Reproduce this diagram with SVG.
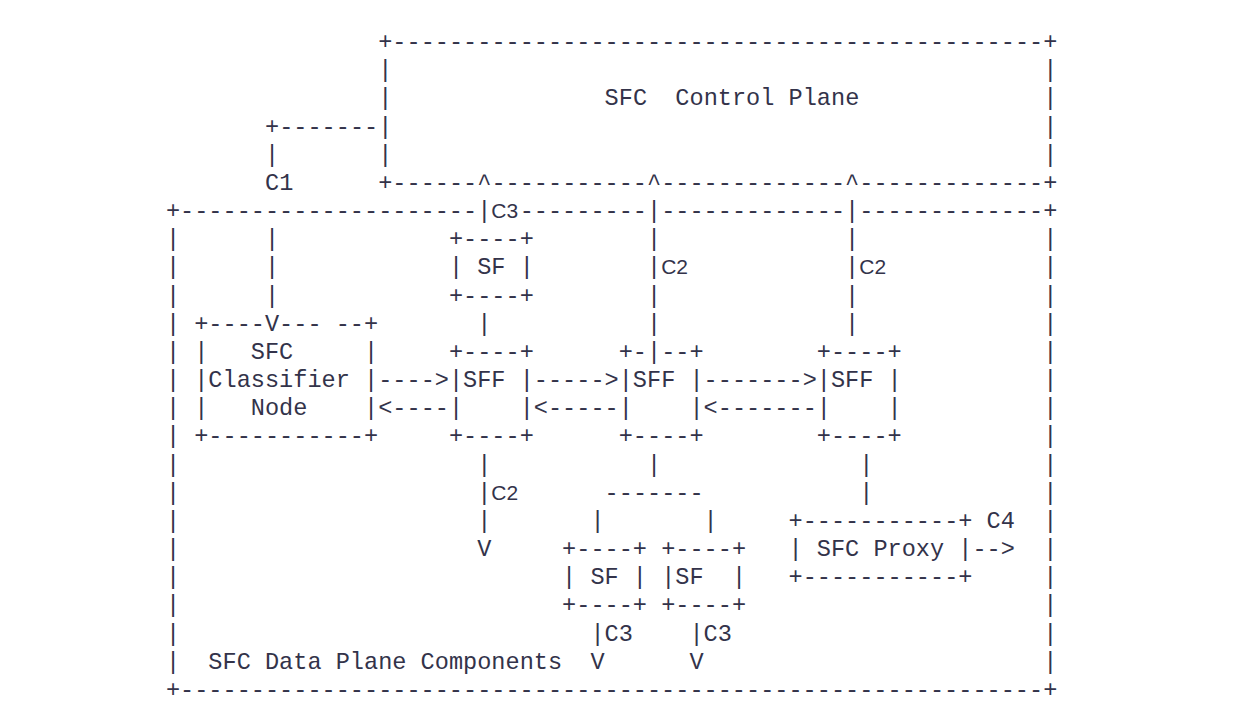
<svg xmlns="http://www.w3.org/2000/svg" width="1238" height="726" viewBox="0 0 1238 726">
<style>
.t{font-family:"Liberation Mono","Courier New",monospace;font-size:23.58px;fill:#33334a}
.s{font-family:"Liberation Sans",Arial,sans-serif;font-size:21px;fill:#33334a}
</style>
<rect width="1238" height="726" fill="#ffffff"/>
<g id="control-plane" class="t">
<text x="378.2" y="49">+----------------------------------------------+</text>
<text x="378.2" y="77.2">|</text><text x="1043.2" y="77.2">|</text>
<text x="378.2" y="105.3">|</text><text x="604.6" y="105.3">SFC&#160;&#160;Control&#160;Plane</text><text x="1043.2" y="105.3">|</text>
<text x="378.2" y="133.5">|</text><text x="1043.2" y="133.5">|</text>
<text x="378.2" y="161.7">|</text><text x="1043.2" y="161.7">|</text>
<text x="378.2" y="189.9">+------^-----------^-------------^-------------+</text>
</g>
<g id="data-plane" class="t">
<text x="165.9" y="218">+---------------------|<tspan class="s">C3</tspan></text>
<text x="519.65" y="218">---------|-------------|-------------+</text>
<text x="165.9" y="246.2">|</text><text x="1043.2" y="246.2">|</text>
<text x="165.9" y="274.4">|</text><text x="1043.2" y="274.4">|</text>
<text x="165.9" y="302.5">|</text><text x="1043.2" y="302.5">|</text>
<text x="165.9" y="330.7">|</text><text x="1043.2" y="330.7">|</text>
<text x="165.9" y="358.9">|</text><text x="1043.2" y="358.9">|</text>
<text x="165.9" y="387">|</text><text x="1043.2" y="387">|</text>
<text x="165.9" y="415.2">|</text><text x="1043.2" y="415.2">|</text>
<text x="165.9" y="443.4">|</text><text x="1043.2" y="443.4">|</text>
<text x="165.9" y="471.6">|</text><text x="1043.2" y="471.6">|</text>
<text x="165.9" y="499.7">|</text><text x="1043.2" y="499.7">|</text>
<text x="165.9" y="527.9">|</text><text x="1043.2" y="527.9">|</text>
<text x="165.9" y="556.1">|</text><text x="1043.2" y="556.1">|</text>
<text x="165.9" y="584.2">|</text><text x="1043.2" y="584.2">|</text>
<text x="165.9" y="612.4">|</text><text x="1043.2" y="612.4">|</text>
<text x="165.9" y="640.6">|</text><text x="1043.2" y="640.6">|</text>
<text x="165.9" y="668.7">|</text><text x="208.35" y="668.7">SFC Data Plane Components</text><text x="1043.2" y="668.7">|</text>
<text x="165.9" y="696.9">+-------------------------------------------------------------+</text>
</g>
<g id="classifier" class="t">
<text x="194.2" y="330.7">+----V---&#160;--+</text>
<text x="194.2" y="358.9">|</text><text x="250.8" y="358.9">SFC</text><text x="364" y="358.9">|</text>
<text x="194.2" y="387">|Classifier&#160;|</text>
<text x="194.2" y="415.2">|</text><text x="250.8" y="415.2">Node</text><text x="364" y="415.2">|</text>
<text x="194.2" y="443.4">+-----------+</text>
</g>
<g id="sf1" class="t">
<text x="448.9" y="246.2">+----+</text>
<text x="448.9" y="274.4">|&#160;SF&#160;|</text>
<text x="448.9" y="302.5">+----+</text>
</g>
<g id="sff1" class="t">
<text x="448.9" y="358.9">+----+</text>
<text x="448.9" y="387">|SFF&#160;|</text>
<text x="448.9" y="415.2">|</text><text x="519.65" y="415.2">|</text>
<text x="448.9" y="443.4">+----+</text>
</g>
<g id="sff2" class="t">
<text x="618.7" y="358.9">+-|--+</text>
<text x="618.7" y="387">|SFF&#160;|</text>
<text x="618.7" y="415.2">|</text><text x="689.45" y="415.2">|</text>
<text x="618.7" y="443.4">+----+</text>
</g>
<g id="sff3" class="t">
<text x="816.8" y="358.9">+----+</text>
<text x="816.8" y="387">|SFF&#160;|</text>
<text x="816.8" y="415.2">|</text><text x="887.55" y="415.2">|</text>
<text x="816.8" y="443.4">+----+</text>
</g>
<g id="sf2" class="t">
<text x="562.1" y="556.1">+----+</text>
<text x="562.1" y="584.2">|&#160;SF&#160;|</text>
<text x="562.1" y="612.4">+----+</text>
</g>
<g id="sf3" class="t">
<text x="661.15" y="556.1">+----+</text>
<text x="661.15" y="584.2">|SF</text><text x="731.9" y="584.2">|</text>
<text x="661.15" y="612.4">+----+</text>
</g>
<g id="sfc-proxy" class="t">
<text x="788.5" y="527.9">+-----------+</text>
<text x="788.5" y="556.1">|&#160;SFC&#160;Proxy&#160;|</text>
<text x="788.5" y="584.2">+-----------+</text>
</g>
<g id="connectors" class="t">
<text x="265" y="133.5">+-------</text>
<text x="265" y="161.7">|</text>
<text x="265" y="189.9">C1</text>
<text x="265" y="246.2">|</text><text x="647" y="246.2">|</text><text x="845.1" y="246.2">|</text>
<text x="265" y="274.4">|</text><text x="647" y="274.4">|<tspan class="s">C2</tspan></text><text x="845.1" y="274.4">|<tspan class="s">C2</tspan></text>
<text x="265" y="302.5">|</text><text x="647" y="302.5">|</text><text x="845.1" y="302.5">|</text>
<text x="477.2" y="330.7">|</text><text x="647" y="330.7">|</text><text x="845.1" y="330.7">|</text>
<text x="378.2" y="387">----&gt;</text><text x="533.8" y="387">-----&gt;</text><text x="703.6" y="387">-------&gt;</text>
<text x="378.2" y="415.2">&lt;----</text><text x="533.8" y="415.2">&lt;-----</text><text x="703.6" y="415.2">&lt;-------</text>
<text x="477.2" y="471.6">|</text><text x="647" y="471.6">|</text><text x="859.25" y="471.6">|</text>
<text x="477.2" y="499.7">|<tspan class="s">C2</tspan></text><text x="604.6" y="499.7">-------</text><text x="859.25" y="499.7">|</text>
<text x="477.2" y="527.9">|</text><text x="590.4" y="527.9">|</text><text x="703.6" y="527.9">|</text><text x="986.6" y="527.9">C4</text>
<text x="477.2" y="556.1">V</text><text x="972.45" y="556.1">--&gt;</text>
<text x="590.4" y="640.6">|C3</text><text x="689.45" y="640.6">|C3</text>
<text x="590.4" y="668.7">V</text><text x="689.45" y="668.7">V</text>
</g>
</svg>
